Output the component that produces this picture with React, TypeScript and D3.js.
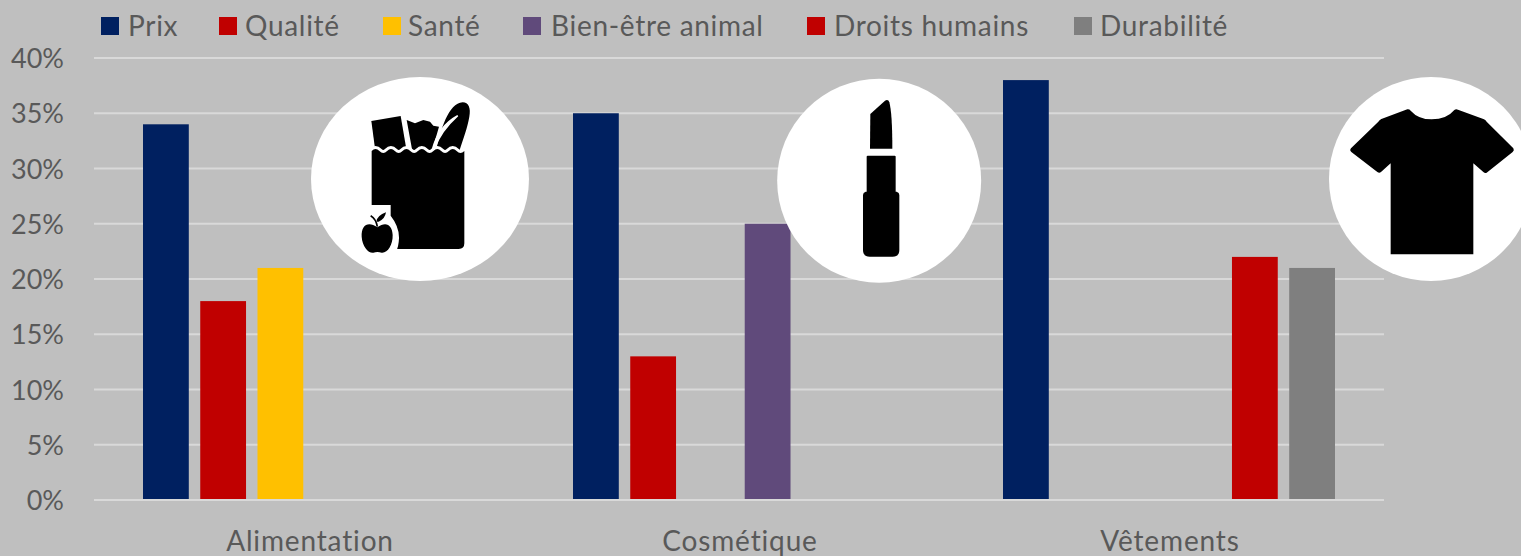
import React from "react";
import * as d3 from "d3";

const categories = ["Alimentation", "Cosmétique", "Vêtements"];
const seriesNames = ["Prix", "Qualité", "Santé", "Bien-être animal", "Droits humains", "Durabilité"];
const seriesColors = ["#002060", "#C00000", "#FFC000", "#604A7B", "#C00000", "#7F7F7F"];
const prix = [34, 35, 38];
const qualite = [18, 13, null];
const sante = [21, null, null];
const bienEtre = [null, 25, null];
const droits = [null, null, 22];
const durabilite = [null, null, 21];
const seriesValues = [prix, qualite, sante, bienEtre, droits, durabilite];
const yTicks = [0, 5, 10, 15, 20, 25, 30, 35, 40];
const legendX = [101, 219, 383, 523, 807, 1074];
const legendTextX = [128, 245, 408, 551, 834, 1100];

const FONT = "Lato, 'Noto Sans', sans-serif";
const TEXT = "#595959";

const wave = (x0: number, x1: number, y: number, n: number) => {
  const s = (x1 - x0) / n;
  let p = "";
  for (let i = 0; i < n; i++) {
    p += `Q${x0 + s * (i + 0.25)},${y - 12} ${x0 + s * (i + 0.5)},${y} Q${x0 + s * (i + 0.75)},${y + 12} ${x0 + s * (i + 1)},${y} `;
  }
  return p;
};

const APPLE = "M232,472 C205,452 183,465 185,500 C187,530 205,550 220,548 Q232,544 245,548 C262,550 279,525 278,495 C277,465 258,452 232,472 Z";

const BagIcon = () => (
  <g transform="translate(300,70) scale(0.33333)">
    <ellipse cx={360} cy={327} rx={327} ry={306} fill="#fff" />
    <path d="M214,153 L302,138 L320,243 L226,243 Z" fill="#000" />
    <path d="M320,150 L345,160 L370,150 L390,155 L400,167 L417,170 L396,243 L337,243 Z" fill="#000" />
    <path d="M408,243 C422,180 445,100 488,97 C506,97 513,115 508,140 C502,175 490,205 478,243 Z" fill="#000" />
    <path d="M398,236 L404,234 C418,195 442,165 473,137 C440,155 412,185 398,236 Z" fill="#fff" stroke="#fff" strokeWidth={5} />
    <path
      d={`M215,243 ${wave(215, 493, 243, 6)} L493,520 Q493,537 476,537 L240,537 Q215,537 215,520 Z`}
      fill="#000"
      stroke="#fff"
      strokeWidth={18}
      style={{ paintOrder: "stroke" }}
    />
    <path d="M205,405 L272,405 L272,437 Q298,470 297,505 Q296,530 288,545 L180,560 L180,420 Z" fill="#fff" />
    <path d={APPLE} fill="#000" />
    <path d="M229,455 Q232,436 258,427 Q255,447 236,455 Z" fill="#000" />
    <path d="M212,437 Q228,446 232,470" fill="none" stroke="#000" strokeWidth={5} />
  </g>
);

const LipstickIcon = () => (
  <g transform="translate(770,70) scale(0.33333)">
    <ellipse cx={327.5} cy={332.5} rx={306} ry={306} fill="#fff" />
    <path d="M301,132 L345,92 Q355,87 358,97 Q367,130 367,236 L300,236 Z" fill="#000" />
    <rect x={290} y={257} width={87} height={115} rx={3} fill="#000" />
    <path d="M287,365 L380,365 Q388,367 388,375 L388,540 Q388,560 368,560 L299,560 Q279,560 279,540 L279,375 Q279,367 287,365 Z" fill="#000" />
  </g>
);

const ShirtIcon = () => (
  <g transform="translate(1320,70) scale(0.33333)">
    <ellipse cx={333} cy={327} rx={306} ry={306} fill="#fff" />
    <path d="M262,118 Q268,117 272,122 Q295,148 335,148 Q380,148 403,120 Q408,116 414,119 L492,148 Q497,150 500,155 L580,235 Q584,241 578,246 L500,308 Q495,311 490,306 L460,280 L460,553 L212,553 L212,280 L183,306 Q178,310 172,306 L94,246 Q88,241 93,235 L175,155 Q178,150 184,147 Z" fill="#000" />
  </g>
);

export default function App() {
  const width = 1521;
  const height = 556;
  const y = d3.scaleLinear().domain([0, 40]).range([500, 58]);
  const x0 = d3.scaleBand<string>().domain(categories).range([94, 1384]);
  const x1 = d3.scaleBand<string>().domain(seriesNames).range([49, 381]).paddingInner(0.2).paddingOuter(0);

  return (
    <svg width={width} height={height} style={{ position: "absolute", left: 0, top: 0, display: "block", background: "#BFBFBF" }} fontFamily={FONT}>
      <rect width={width} height={height} fill="#BFBFBF" />
      {yTicks.map((t) => (
        <g key={t}>
          <line x1={94} x2={1384} y1={y(t)} y2={y(t)} stroke="#D9D9D9" strokeWidth={2} />
          <text x={64} y={y(t) + 10} textAnchor="end" fontSize={27} fill={TEXT}>{t}%</text>
        </g>
      ))}
      {seriesNames.map((name, si) =>
        seriesValues[si].map((v, ci) =>
          v == null ? null : (
            <rect
              key={name + ci}
              x={x0(categories[ci])! + x1(name)!}
              y={y(v)}
              width={x1.bandwidth()}
              height={y(0) - 1 - y(v)}
              fill={seriesColors[si]}
            />
          )
        )
      )}
      {categories.map((c) => (
        <text key={c} x={x0(c)! + x0.bandwidth() / 2 + 1} y={551} textAnchor="middle" fontSize={28} letterSpacing={0.85} fill={TEXT}>{c}</text>
      ))}
      {seriesNames.map((name, i) => (
        <g key={name}>
          <rect x={legendX[i]} y={17} width={18} height={18} fill={seriesColors[i]} />
          <text x={legendTextX[i]} y={36} fontSize={28} letterSpacing={0.7} fill={TEXT}>{name}</text>
        </g>
      ))}
      <BagIcon />
      <LipstickIcon />
      <ShirtIcon />
    </svg>
  );
}
